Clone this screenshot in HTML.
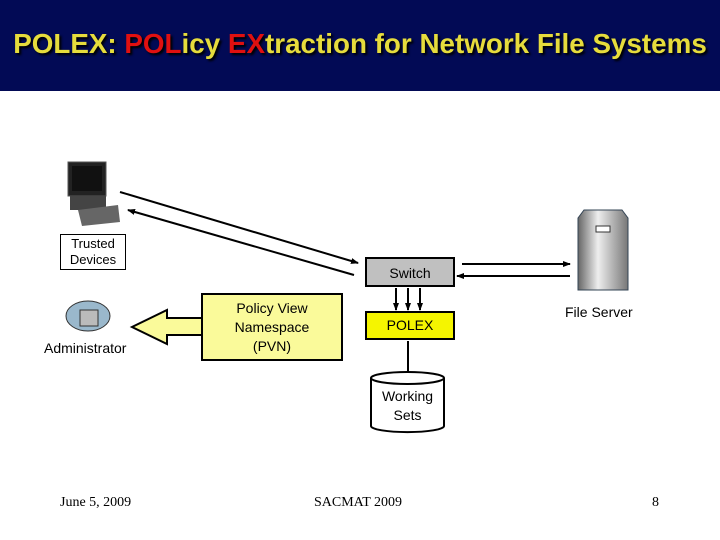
<!DOCTYPE html>
<html><head><style>
body{margin:0;width:720px;height:540px;background:#fff;position:relative;overflow:hidden;font-family:"Liberation Sans",sans-serif}
.hdr{position:absolute;left:0;top:0;width:720px;height:91px;background:#020a55}
.t{position:absolute;left:0;width:720px;top:28px;text-align:center;font-size:27.8px;font-weight:bold;color:#e6dc3c;text-shadow:2px 2px 2px #000;white-space:nowrap}
.r{color:#e01010}
.f{position:absolute;top:495px;font-family:"Liberation Serif",serif;font-size:14px}
.b{position:absolute;text-align:center;font-size:14px;box-sizing:border-box;border:2px solid #000;display:flex;align-items:center;justify-content:center;line-height:19px}
</style></head><body>
<div class="hdr"></div>
<div class="t">POLEX: <span class="r">POL</span>icy <span class="r">EX</span>traction for Network File Systems</div>
<svg width="720" height="540" style="position:absolute;left:0;top:0">
<defs><marker id="a" markerWidth="8" markerHeight="8" refX="7" refY="4" orient="auto" markerUnits="userSpaceOnUse"><path d="M0,1 L8,4 L0,7z" fill="#000"/></marker></defs>
<g stroke="#000" stroke-width="2" fill="none">
<line x1="120" y1="192" x2="358" y2="263" marker-end="url(#a)"/>
<line x1="354" y1="275" x2="128" y2="210" marker-end="url(#a)"/>
<line x1="462" y1="264" x2="570" y2="264" marker-end="url(#a)"/>
<line x1="570" y1="276" x2="457" y2="276" marker-end="url(#a)"/>
<line x1="396" y1="288" x2="396" y2="310" marker-end="url(#a)"/>
<line x1="408" y1="288" x2="408" y2="310" marker-end="url(#a)"/>
<line x1="420" y1="288" x2="420" y2="310" marker-end="url(#a)"/>
<line x1="408" y1="341" x2="408" y2="380" marker-end="url(#a)"/>
</g>
<path d="M202,318 L167,318 L167,310 L132,327 L167,344 L167,335 L202,335" fill="#fafa9a" stroke="#000" stroke-width="2"/>
<path d="M371,378 L371,426 A36,6 0 0 0 444,426 L444,378" fill="#fff" stroke="#000" stroke-width="2"/>
<ellipse cx="407.5" cy="378" rx="36.5" ry="6" fill="#fff" stroke="#000" stroke-width="2"/>
<rect x="68" y="162" width="38" height="34" fill="#222" stroke="#555"/>
<rect x="72" y="166" width="30" height="25" fill="#111"/>
<rect x="70" y="196" width="36" height="14" fill="#444"/>
<path d="M78,210 L118,205 L120,222 L82,226z" fill="#666"/>
<ellipse cx="88" cy="316" rx="22" ry="15" fill="#9ab8cc" stroke="#333"/>
<rect x="80" y="310" width="18" height="16" fill="#bbb" stroke="#333"/>
<defs><linearGradient id="g" x1="0" x2="1"><stop offset="0" stop-color="#666"/><stop offset=".4" stop-color="#eee"/><stop offset="1" stop-color="#777"/></linearGradient></defs>
<path d="M578,218 L584,210 L622,210 L628,218 L628,290 L578,290z" fill="url(#g)" stroke="#345"/>
<rect x="596" y="226" width="14" height="6" fill="#fff" stroke="#333"/>
</svg>
<div class="b" style="left:60px;top:234px;width:66px;height:36px;border-width:1px;font-size:13px;line-height:16px">Trusted<br>Devices</div>
<div style="position:absolute;left:44px;top:340px;font-size:14px">Administrator</div>
<div class="b" style="left:201px;top:293px;width:142px;height:68px;background:#fafa9a">Policy View<br>Namespace<br>(PVN)</div>
<div class="b" style="left:365px;top:257px;width:90px;height:30px;background:#c0c0c0;padding-top:2px">Switch</div>
<div class="b" style="left:365px;top:311px;width:90px;height:29px;background:#f5f500">POLEX</div>
<div style="position:absolute;left:371px;top:387px;width:73px;text-align:center;font-size:14px;line-height:19px">Working<br>Sets</div>
<div style="position:absolute;left:565px;top:304px;font-size:14px">File Server</div>
<div class="f" style="left:60px">June 5, 2009</div>
<div class="f" style="left:314px">SACMAT 2009</div>
<div class="f" style="left:652px">8</div>
</body></html>
